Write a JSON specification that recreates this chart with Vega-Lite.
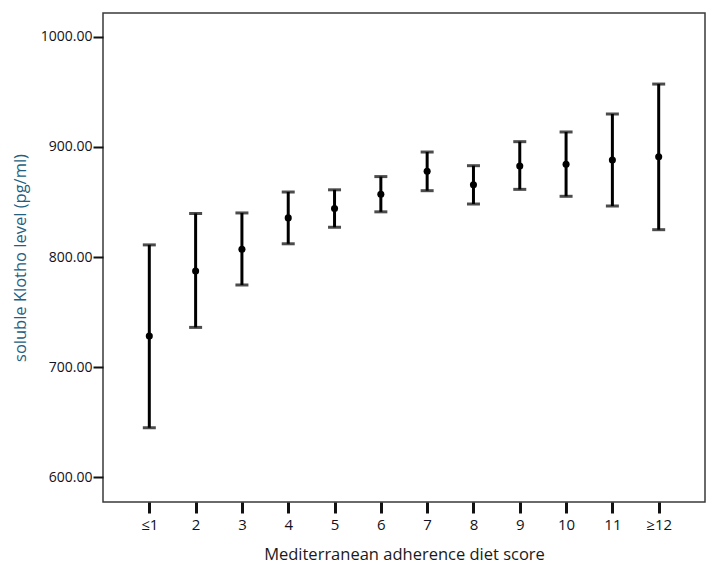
{
  "$schema": "https://vega.github.io/schema/vega-lite/v6.json",
  "width": 602,
  "height": 489,
  "autosize": "none",
  "padding": {"left": 103, "top": 13, "right": 13, "bottom": 71},
  "background": "white",
  "config": {
    "view": {"stroke": "#3a3a3a", "strokeWidth": 1.5},
    "font": "Open Sans"
  },
  "data": {
    "values": [
      {"score": "≤1", "mean": 728.3, "lower": 645.0, "upper": 811.0},
      {"score": "2", "mean": 787.3, "lower": 736.1, "upper": 839.5},
      {"score": "3", "mean": 807.0, "lower": 774.6, "upper": 840.0},
      {"score": "4", "mean": 835.5, "lower": 812.0, "upper": 859.0},
      {"score": "5", "mean": 844.0, "lower": 827.0, "upper": 861.0},
      {"score": "6", "mean": 857.0, "lower": 841.0, "upper": 873.0},
      {"score": "7", "mean": 877.8, "lower": 860.2, "upper": 895.3},
      {"score": "8", "mean": 865.6, "lower": 848.1, "upper": 882.9},
      {"score": "9", "mean": 882.6, "lower": 861.4, "upper": 904.7},
      {"score": "10", "mean": 884.1, "lower": 855.1, "upper": 913.5},
      {"score": "11", "mean": 888.0, "lower": 846.3, "upper": 929.8},
      {"score": "≥12", "mean": 891.0, "lower": 824.8, "upper": 957.0}
    ]
  },
  "encoding": {
    "x": {
      "field": "score",
      "type": "nominal",
      "sort": null,
      "scale": {"type": "point", "padding": 1.16},
      "axis": {
        "title": "Mediterranean adherence diet score",
        "labelAngle": 0,
        "domain": false,
        "grid": false,
        "tickSize": 11,
        "tickWidth": 3,
        "tickColor": "#111111",
        "labelPadding": 4,
        "labelFont": "Open Sans",
        "labelFontSize": 15,
        "labelColor": "#111122",
        "titleFont": "Open Sans",
        "titleFontSize": 16.5,
        "titleFontWeight": "normal",
        "titleColor": "#1a1a1a",
        "titlePadding": 14
      }
    }
  },
  "layer": [
    {
      "mark": {"type": "rule", "strokeWidth": 3, "color": "black"},
      "encoding": {
        "y": {
          "field": "lower",
          "type": "quantitative",
          "scale": {"domain": [577.6, 1021.5], "nice": false, "zero": false},
          "axis": {
            "title": "soluble Klotho level (pg/ml)",
            "values": [600, 700, 800, 900, 1000],
            "format": ".2f",
            "domain": false,
            "grid": false,
            "tickSize": 10,
            "tickWidth": 2,
            "tickColor": "#111111",
            "labelPadding": 1,
            "labelFont": "Open Sans",
            "labelFontSize": 14,
            "labelColor": "#111122",
            "titleFont": "Open Sans",
            "titleFontSize": 16.5,
            "titleFontWeight": "normal",
            "titleColor": "#23607f",
            "titlePadding": 12
          }
        },
        "y2": {"field": "upper"}
      }
    },
    {
      "mark": {"type": "tick", "thickness": 3, "size": 13, "color": "black", "orient": "horizontal"},
      "encoding": {"y": {"field": "lower", "type": "quantitative"}}
    },
    {
      "mark": {"type": "tick", "thickness": 3, "size": 13, "color": "black", "orient": "horizontal"},
      "encoding": {"y": {"field": "upper", "type": "quantitative"}}
    },
    {
      "mark": {"type": "circle", "size": 50, "color": "black", "opacity": 1},
      "encoding": {"y": {"field": "mean", "type": "quantitative"}}
    }
  ]
}
